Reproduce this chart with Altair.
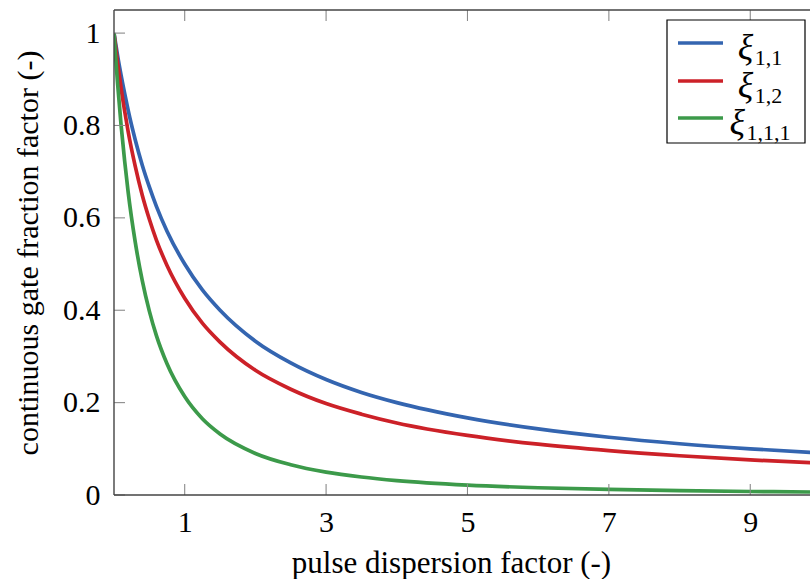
import altair as alt
import pandas as pd

# ---- data ----
x_vals = [0, 0.025, 0.05, 0.1, 0.15, 0.2, 0.3, 0.4, 0.5, 0.6, 0.75, 1, 1.25, 1.5, 2, 2.5, 3, 3.5,
          4, 5, 6, 7, 8, 9, 10]
xi_11 = [1, 0.976, 0.952, 0.909, 0.870, 0.833, 0.769, 0.714, 0.667, 0.625, 0.571, 0.5, 0.444, 0.4,
         0.333, 0.286, 0.25, 0.222, 0.2, 0.167, 0.143, 0.125, 0.111, 0.1, 0.091]
xi_12 = [1, 0.967, 0.937, 0.881, 0.832, 0.787, 0.712, 0.649, 0.597, 0.552, 0.497, 0.426, 0.372, 0.331,
         0.27, 0.229, 0.198, 0.175, 0.156, 0.129, 0.11, 0.096, 0.085, 0.076, 0.069]
xi_111 = [1, 0.944, 0.892, 0.801, 0.724, 0.656, 0.548, 0.464, 0.398, 0.345, 0.284, 0.213, 0.165, 0.132,
          0.09, 0.0655, 0.0495, 0.0389, 0.0312, 0.0215, 0.0157, 0.012, 0.0094, 0.0076, 0.0063]

series_names = ["xi_11", "xi_12", "xi_111"]
series_subs = ["1,1", "1,2", "1,1,1"]
series_colors = ["#3465B0", "#CC2128", "#3C9A4A"]

x_ticks = [1, 3, 5, 7, 9]
y_ticks = [0, 0.2, 0.4, 0.6, 0.8, 1]

x_title = "pulse dispersion factor (-)"
y_title = "continuous gate fraction factor (-)"

# ---- build table ----
rows = []
for name, vals in zip(series_names, [xi_11, xi_12, xi_111]):
    for xv, yv in zip(x_vals, vals):
        rows.append({"x": xv, "y": yv, "series": name})
df = pd.DataFrame(rows)

W, H = 696, 485
FONT = "Liberation Serif"
XMAX = 9.845
YMAX = 1.05

xscale = alt.Scale(domain=[0, XMAX], nice=False, zero=False)
yscale = alt.Scale(domain=[0, YMAX], nice=False)

lines = alt.Chart(df).mark_line(strokeWidth=3.7, clip=True, interpolate="monotone").encode(
    x=alt.X("x:Q", scale=xscale,
            axis=alt.Axis(values=x_ticks, format="d", ticks=False, domain=False, grid=False,
                          labelFont=FONT, labelFontSize=30, labelColor="black", labelPadding=12,
                          title=x_title, titleFont=FONT, titleFontSize=31, titleFontWeight="normal",
                          titleColor="black", titlePadding=11, titleX=337, titleAlign="center")),
    y=alt.Y("y:Q", scale=yscale,
            axis=alt.Axis(values=y_ticks, format=".1~f", ticks=False, domain=False, grid=False,
                          labelFont=FONT, labelFontSize=30, labelColor="black", labelPadding=14,
                          title=y_title, titleFont=FONT, titleFontSize=30, titleFontWeight="normal",
                          titleColor="black", titlePadding=19)),
    color=alt.Color("series:N", scale=alt.Scale(domain=series_names, range=series_colors), legend=None),
)

one = pd.DataFrame({"a": [0]})
FRAME = "#444444"
frame_left = alt.Chart(one).mark_rule(color=FRAME, strokeWidth=1.4).encode(
    x=alt.value(0), y=alt.value(0), y2=alt.value(H))
frame_top = alt.Chart(one).mark_rule(color=FRAME, strokeWidth=1.4).encode(
    x=alt.value(0), x2=alt.value(W + 5), y=alt.value(0))
frame_bot = alt.Chart(one).mark_rule(color=FRAME, strokeWidth=1.4).encode(
    x=alt.value(0), x2=alt.value(W + 5), y=alt.value(H))

TICK = "#8a8a8a"
xt = pd.DataFrame({"t": x_ticks})
yt = pd.DataFrame({"t": y_ticks})
ticks_bottom = alt.Chart(xt).mark_rule(color=TICK, strokeWidth=1.1).encode(
    x=alt.X("t:Q", scale=xscale), y=alt.value(H), y2=alt.value(H - 11))
ticks_top = alt.Chart(xt).mark_rule(color=TICK, strokeWidth=1.1).encode(
    x=alt.X("t:Q", scale=xscale), y=alt.value(0), y2=alt.value(11))
ticks_left = alt.Chart(yt).mark_rule(color=TICK, strokeWidth=1.1).encode(
    y=alt.Y("t:Q", scale=yscale), x=alt.value(0), x2=alt.value(11))

# ---- legend (manual, pgfplots style) ----
box = alt.Chart(one).mark_rect(fill="white", stroke="black", strokeWidth=1.2).encode(
    x=alt.value(553), x2=alt.value(691), y=alt.value(10), y2=alt.value(133))
legend_layers = [box]
row_y = [33, 71, 108]
XI_W = 17
for sub, col, ry in zip(series_subs, series_colors, row_y):
    legend_layers.append(alt.Chart(one).mark_rule(color=col, strokeWidth=3.7).encode(
        x=alt.value(564), x2=alt.value(609), y=alt.value(ry)))
    sub_w = 11 * len(sub.replace(",", "")) + 5.5 * sub.count(",")
    xi_x = 646 - (XI_W + sub_w) / 2
    legend_layers.append(alt.Chart(one).mark_text(
        text="ξ", font=FONT, fontSize=36, fontStyle="italic", align="left", baseline="alphabetic",
        color="black").encode(x=alt.value(xi_x), y=alt.value(ry + 16)))
    legend_layers.append(alt.Chart(one).mark_text(
        text=sub, font=FONT, fontSize=22, align="left", baseline="alphabetic",
        color="black").encode(x=alt.value(xi_x + XI_W), y=alt.value(ry + 22)))

chart = alt.layer(
    lines, ticks_bottom, ticks_top, ticks_left, frame_left, frame_top, frame_bot, *legend_layers
).properties(
    width=W, height=H,
    autosize=alt.AutoSizeParams(type="none"),
    padding={"left": 114, "top": 10, "right": 0, "bottom": 84},
    background="white",
).configure_view(stroke=None)

chart.save("out.html", embed_options={"renderer": "svg", "actions": False})
